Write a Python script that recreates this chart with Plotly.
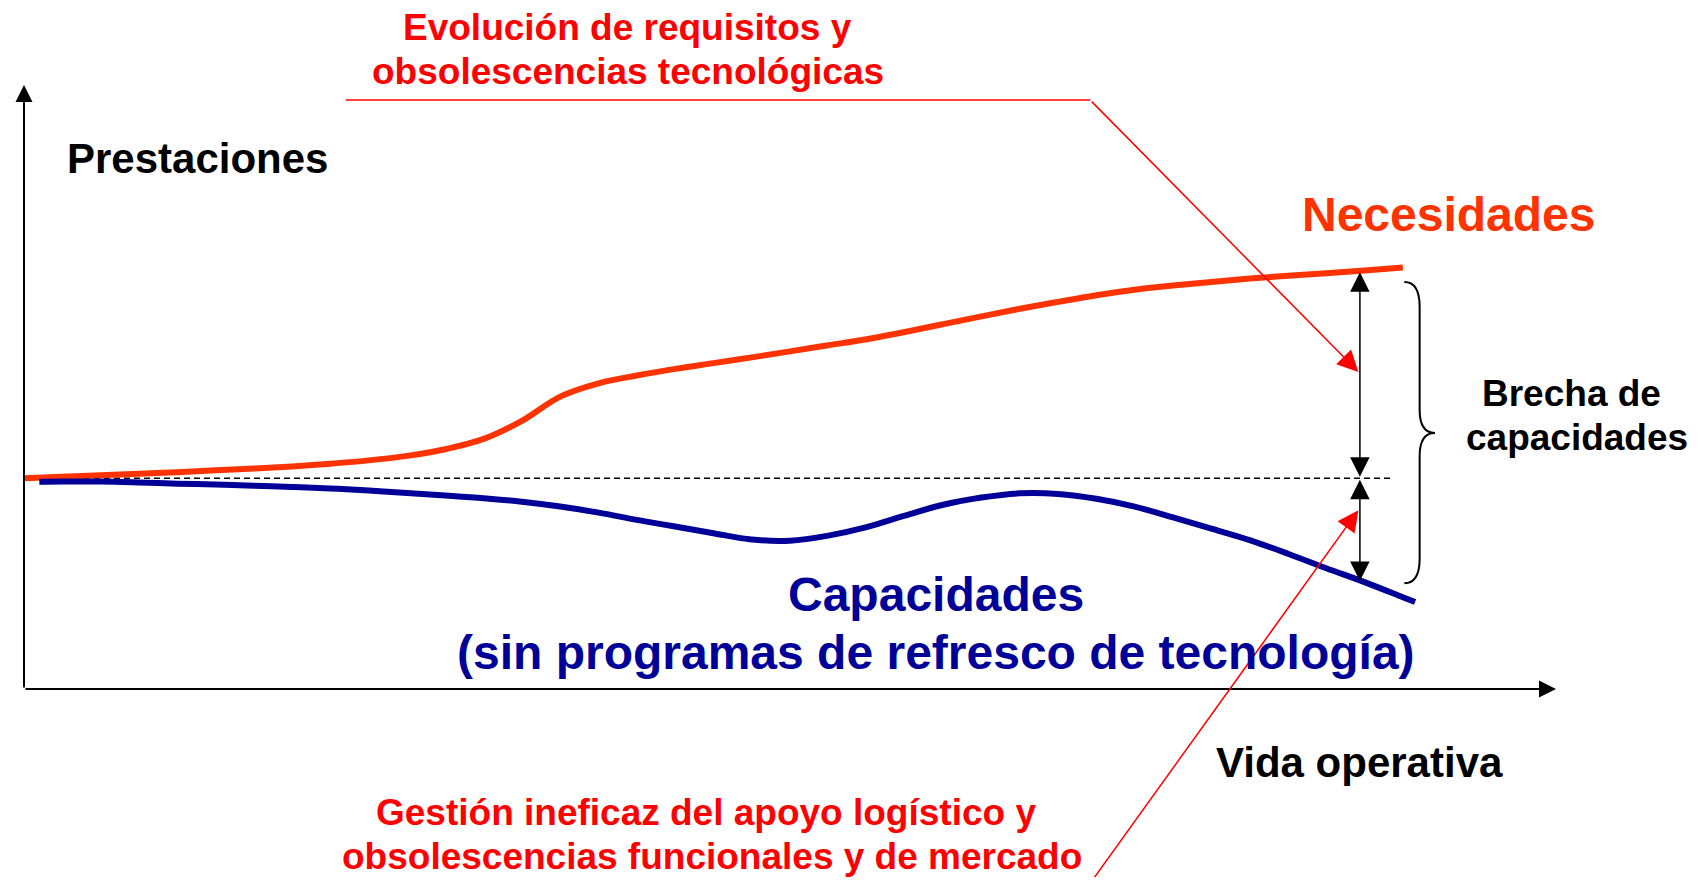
import plotly.graph_objects as go

# ---------------- data (vida operativa 0-100, prestaciones 0-100) ----------------
vida_necesidades = [0, 2.5, 5, 7.5, 10, 12.5, 15, 17.5, 20, 22.5, 25, 27.5, 30, 32.5, 35,
                    37.5, 40, 42.5, 45, 47.5, 50, 52.5, 55, 57.5, 60, 62.5, 65, 67.5, 70,
                    72.5, 75, 77.5, 80, 82.5, 85, 87.5, 90]
necesidades = [34.9, 35.15, 35.4, 35.65, 35.9, 36.2, 36.5, 36.85, 37.3, 37.85, 38.6, 39.7,
               41.4, 44.4, 48.4, 50.6, 51.9, 53.0, 53.95, 54.9, 55.9, 56.9, 57.9, 59.1,
               60.4, 61.7, 62.95, 64.1, 65.2, 66.1, 66.8, 67.4, 67.95, 68.4, 68.85, 69.3, 69.8]

vida_capacidades = [1.0, 2.5, 5, 7.5, 10, 12.5, 15, 17.5, 20, 22.5, 25, 27.5, 30, 32.5, 35,
                    37.5, 40, 42.5, 45, 47.5, 50, 52.5, 55, 57.5, 60, 62.5, 65, 67.5, 70,
                    72.5, 75, 77.5, 80, 82.5, 85, 87.5, 90, 90.8]
capacidades = [34.3, 34.35, 34.35, 34.2, 34.0, 33.85, 33.65, 33.45, 33.2, 32.85, 32.45, 32.05,
               31.6, 31.0, 30.2, 29.2, 28.0, 26.9, 25.8, 24.75, 24.55, 25.4, 26.8, 28.7,
               30.5, 31.7, 32.4, 32.3, 31.5, 30.2, 28.4, 26.55, 24.65, 22.4, 20.0, 17.7,
               15.2, 14.4]

nivel_inicial = 34.9          # dashed reference level
vida_nivel = [0, 89.4]
vida_brecha = 87.2            # where the gap is measured
brecha_necesidad = 69.0
brecha_capacidad = 17.9

# ---------------- styling / layout constants ----------------
W, H = 1690, 869
OFF = 8                       # default body margin of the html page
X0_PX, X100_PX = 24, 1556     # page pixels of x=0 and x=100
Y0_PX, Y100_PX = 689, 85      # page pixels of y=0 and y=100
sx = (X100_PX - X0_PX) / 100.0
sy = (Y0_PX - Y100_PX) / 100.0
x_range = [-(X0_PX - OFF) / sx, (W - (X0_PX - OFF)) / sx]
y_range = [-(OFF + H - Y0_PX) / sy, (Y0_PX - OFF) / sy]

ORANGE = "#FF3300"
NAVY = "#000099"
RED = "#FF0000"
FONT = "Liberation Sans, Arial, sans-serif"

fig = go.Figure()

fig.add_trace(go.Scatter(x=vida_nivel, y=[nivel_inicial] * 2, mode="lines",
                         line=dict(color="black", width=1.5, dash="6px,4px"),
                         hoverinfo="skip"))
fig.add_trace(go.Scatter(x=vida_necesidades, y=necesidades, mode="lines",
                         line=dict(color=ORANGE, width=6, shape="spline", smoothing=1.0),
                         name="Necesidades"))
fig.add_trace(go.Scatter(x=vida_capacidades, y=capacidades, mode="lines",
                         line=dict(color=NAVY, width=6, shape="spline", smoothing=1.0),
                         name="Capacidades"))
# red leader line (horizontal part)
fig.add_trace(go.Scatter(x=[21.0, 69.6], y=[97.5, 97.5], mode="lines",
                         line=dict(color=RED, width=1.5), hoverinfo="skip"))

ann = []


def arrow(x, y, ax, ay, color, width, size, both=False):
    d = dict(x=x, y=y, ax=ax, ay=ay, xref="x", yref="y", axref="x", ayref="y",
             text="", showarrow=True, arrowhead=2, arrowsize=size, arrowwidth=width,
             arrowcolor=color, standoff=0, startstandoff=0)
    if both:
        d.update(arrowside="end+start", startarrowhead=2, startarrowsize=size)
    ann.append(d)


# axes
arrow(0, 100, 0, 0, "black", 2, 1.7)
arrow(100, 0, 0, 0, "black", 2, 1.7)
# gap arrows
arrow(vida_brecha, brecha_necesidad, vida_brecha, nivel_inicial, "black", 1.5, 2.6, both=True)
arrow(vida_brecha, brecha_capacidad, vida_brecha, nivel_inicial, "black", 1.5, 2.6, both=True)
# red pointers
arrow(87.1, 52.5, 69.6, 97.5, RED, 1.5, 2.8)
arrow(87.1, 29.6, 69.5, -32.5, RED, 1.5, 2.8)


def text(t, x, y, size, color, xanchor="center"):
    ann.append(dict(x=x, y=y, xref="x", yref="y", text=t, showarrow=False,
                    xanchor=xanchor, yanchor="middle",
                    font=dict(family=FONT, size=size, color=color, weight="bold")))


text("Prestaciones", 2.68, 87.9, 42, "black", xanchor="left")
text("Evolución de requisitos y", 39.4, 109.6, 37, RED)
text("obsolescencias tecnológicas", 39.4, 102.3, 37, RED)
text("Necesidades", 93.0, 78.5, 48, ORANGE)
text("Capacidades", 59.5, 15.7, 48, NAVY)
text("(sin programas de refresco de tecnología)", 59.5, 6.0, 48, NAVY)
text("Vida operativa", 87.2, -12.1, 42, "black")
text("Gestión ineficaz del apoyo logístico y", 44.5, -20.5, 37, RED)
text("obsolescencias funcionales y de mercado", 44.9, -27.8, 37, RED)
text("Brecha de", 101.0, 49.0, 37, "black")
text("capacidades", 101.4, 41.6, 37, "black")

# curly brace
bx0, bx1, btip = 90.1, 91.1, 92.1
btop, bmid, bbot = 67.4, 42.4, 17.5
k1, k2 = 4.1, 3.8
brace = (f"M {bx0},{btop} Q {bx1},{btop} {bx1},{btop - k1} "
         f"L {bx1},{bmid + k2} Q {bx1},{bmid} {btip},{bmid} "
         f"Q {bx1},{bmid} {bx1},{bmid - k2} "
         f"L {bx1},{bbot + k1} Q {bx1},{bbot} {bx0},{bbot}")

fig.update_layout(
    width=W, height=H, autosize=False,
    margin=dict(l=0, r=0, t=0, b=0, pad=0),
    paper_bgcolor="white", plot_bgcolor="white",
    showlegend=False,
    xaxis=dict(range=x_range, visible=False, fixedrange=True),
    yaxis=dict(range=y_range, visible=False, fixedrange=True),
    annotations=ann,
    shapes=[dict(type="path", path=brace, xref="x", yref="y",
                 line=dict(color="black", width=2))],
)

fig.write_html("out.html")
